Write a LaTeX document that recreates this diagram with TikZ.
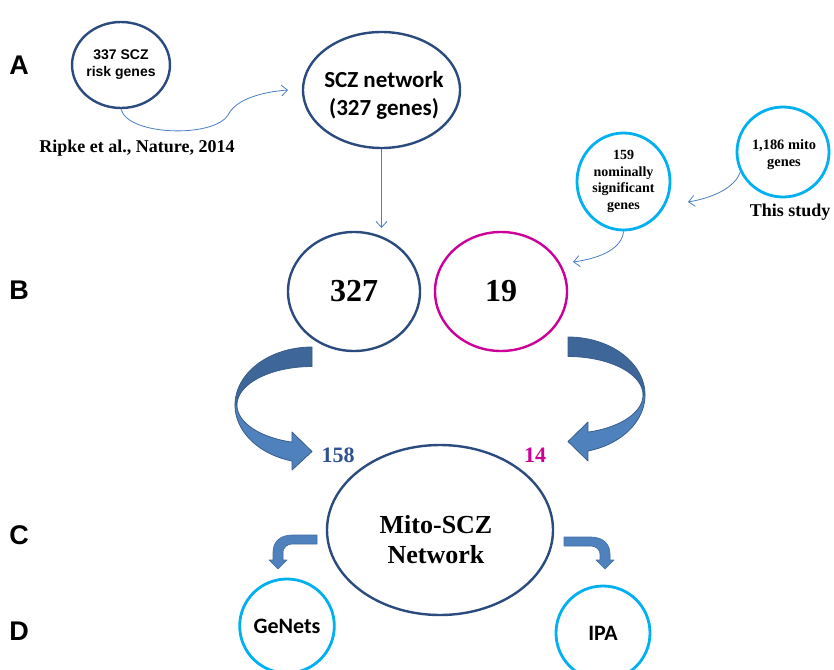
\documentclass[tikz,border=0pt]{standalone}
\usepackage{fontspec}
\setmainfont{Liberation Serif}
\newfontfamily\arialf{Liberation Sans}
\newfontfamily\calibrif{Carlito}
\usetikzlibrary{shapes.geometric,arrows.meta}
\definecolor{navy}{HTML}{2B4B7E}
\definecolor{lblue}{HTML}{00B0F0}
\definecolor{mag}{HTML}{CC0099}
\definecolor{thinc}{HTML}{4A7EC4}
\definecolor{arrdark}{HTML}{3F6699}
\definecolor{arrlight}{HTML}{4F81BD}
\definecolor{arrline}{HTML}{385D8A}
\definecolor{numblue}{HTML}{2F5190}
\begin{document}
\begin{tikzpicture}[x=1pt,y=-1pt,
  oval/.style={ellipse, draw=navy, line width=2.4pt, inner sep=0pt, align=center},
  lcirc/.style={ellipse, draw=lblue, line width=2.8pt, inner sep=0pt, align=center},
  panel/.style={font=\arialf\bfseries\fontsize{27}{30}\selectfont},
  thinarr/.style={draw=thinc, line width=0.8pt, -{Straight Barb[length=6pt,width=11pt]}},
  bigdark/.style={fill=arrdark, draw=arrline, line width=0.8pt, line join=round},
  biglight/.style={fill=arrlight, draw=arrline, line width=0.8pt, line join=round},
  bentarr/.style={fill=arrlight, draw=arrlight!85!black, line width=0.6pt, line join=round}]
\useasboundingbox (0,0) rectangle (834,669);

% panel letters
\node[panel] (pA) at (19,65) {A};
\node[panel] (pB) at (19,290) {B};
\node[panel] (pC) at (19,535) {C};
\node[panel] (pD) at (19,631) {D};

% A
\node[oval, minimum width=92pt, minimum height=86pt,
      font=\arialf\bfseries\fontsize{14}{17}\selectfont] (risk) at (121,65) {337 SCZ\\risk genes};
\node[oval, minimum width=157pt, minimum height=116pt] (scz) at (381.5,90) {};
\node[align=center, font=\calibrif\bfseries\fontsize{23}{28}\selectfont] (sczlbl) at (384,95) {SCZ network\\(327 genes)};
\node[font=\bfseries\fontsize{18}{20}\selectfont] (ripke) at (137,148) {Ripke et al., Nature, 2014};

\node[lcirc, minimum width=93pt, minimum height=97pt,
      font=\bfseries\fontsize{14}{16.7}\selectfont] (nom) at (623.5,181.5) {159\\nominally\\significant\\genes};
\node[lcirc, minimum width=92pt, minimum height=90pt] (mito) at (783,152) {};
\node[align=center, font=\bfseries\fontsize{14.4}{17}\selectfont] (mitolbl) at (784,155) {1,186 mito\\genes};
\node[font=\bfseries\fontsize{18}{20}\selectfont, anchor=east] (study) at (834,212) {This study};

% B
\node[oval, minimum width=132pt, minimum height=119pt,
      font=\bfseries\fontsize{32}{34}\selectfont] (c327) at (354,291.5) {327};
\node[oval, draw=mag, minimum width=132pt, minimum height=119pt,
      font=\bfseries\fontsize{32}{34}\selectfont] (c19) at (501,291.5) {19};

% thin arrows
\coordinate (e1) at (288,90);
\coordinate (e2) at (381.5,228);
\coordinate (e3) at (688,202);
\coordinate (e4) at (573,262);
\draw[thinarr] (risk.south) .. controls (128,136) and (214,138) .. (228,115)
   .. controls (236,99) and (262,92) .. (e1);
\draw[thinarr] (scz.south) -- (e2);
\draw[thinarr] (mito.205) .. controls (735,188) and (712,198) .. (e3);
\draw[thinarr] (nom.south) .. controls (622,248) and (602,258) .. (e4);

% big curved arrows
\path[bigdark] plot[domain=0:90, samples=40] ({312-77*sin(\x)},{405-58*cos(\x)})
   -- plot[domain=90:0, samples=40] ({312-75*sin(\x)},{405-38.5*cos(\x)}) -- cycle;
\path[biglight] plot[domain=90:165, samples=40] ({312-77*sin(\x)},{405-58*cos(\x)})
   -- (292,470) -- (312,451.5) -- (292,432)
   -- plot[domain=164.5:90, samples=40] ({312-75*sin(\x)},{405-38.5*cos(\x)}) -- cycle;

\path[bigdark] plot[domain=0:90, samples=40] ({568+77*sin(\x)},{395-58*cos(\x)})
   -- plot[domain=90:0, samples=40] ({568+75*sin(\x)},{395-38.5*cos(\x)}) -- cycle;
\path[biglight] plot[domain=90:165, samples=40] ({568+77*sin(\x)},{395-58*cos(\x)})
   -- (588,461) -- (568,441.5) -- (588,422)
   -- plot[domain=164.5:90, samples=40] ({568+75*sin(\x)},{395-38.5*cos(\x)}) -- cycle;

\node[font=\bfseries\fontsize{22}{24}\selectfont, text=numblue] (n158) at (338,455) {158};
\node[font=\bfseries\fontsize{22}{24}\selectfont, text=mag] (n14) at (535,455) {14};

% C
\node[oval, minimum width=226pt, minimum height=170pt] (net) at (440,530) {};
\node[align=center, font=\bfseries\fontsize{26}{30}\selectfont] (netlbl) at (436,540) {Mito-SCZ\\Network};

% bent arrows
\path[bentarr] (317,535) -- (292,535) .. controls (280,535) and (273,542) .. (273,552)
   -- (273,560) -- (269,560) -- (278,569) -- (287,560) -- (283,560) -- (283,552)
   .. controls (283,548) and (287,544) .. (292,544) -- (317,544) -- cycle;
\path[bentarr] (564,537) -- (591,537) .. controls (603,537) and (610,544) .. (610,554)
   -- (610,560) -- (614,560) -- (605,569) -- (596,560) -- (600,560) -- (600,554)
   .. controls (600,550) and (596,546) .. (591,546) -- (564,546) -- cycle;

% D
\node[lcirc, minimum width=94pt, minimum height=94pt,
      font=\calibrif\bfseries\fontsize{22}{24}\selectfont] (genets) at (287,626) {GeNets};
\node[lcirc, minimum width=94pt, minimum height=94pt,
      font=\calibrif\bfseries\fontsize{22}{24}\selectfont] (ipa) at (603,633) {IPA};
\end{tikzpicture}
\end{document}
